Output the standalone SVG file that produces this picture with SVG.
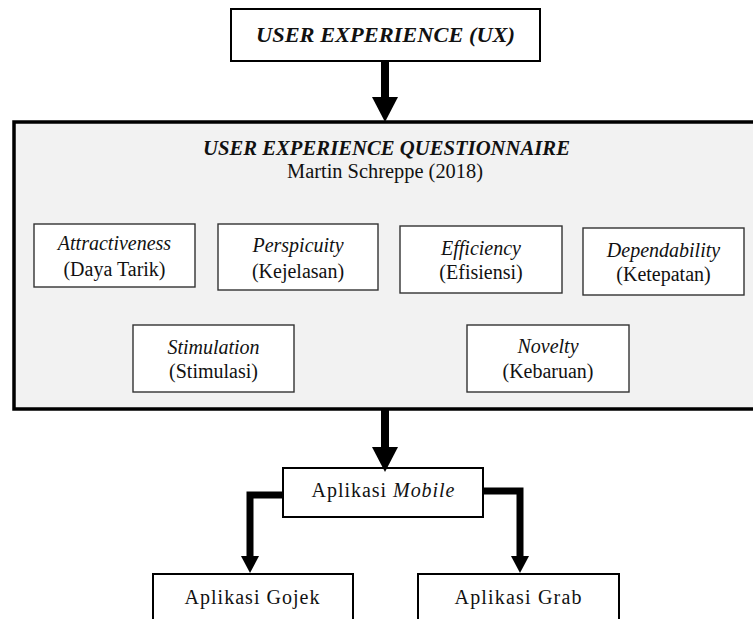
<svg xmlns="http://www.w3.org/2000/svg" width="753" height="619" viewBox="0 0 753 619">
<style>
text{font-family:"Liberation Serif","Times New Roman",serif;fill:#111;text-anchor:middle}
.t{font-size:20px}
.i{font-style:italic}
.bi{font-style:italic;font-weight:bold}
.box{fill:#fff;stroke:#000;stroke-width:2}
.ibox{fill:#fff;stroke:#333;stroke-width:1.4}
.con{fill:none;stroke:#000;stroke-linejoin:miter}
</style>
<defs>
<marker id="bigHead" markerUnits="userSpaceOnUse" markerWidth="26" markerHeight="26" refX="0" refY="13" orient="auto" overflow="visible">
<path d="M0,0 L25,13 L0,26 z" fill="#000"/>
</marker>
<marker id="smallHead" markerUnits="userSpaceOnUse" markerWidth="18" markerHeight="18" refX="0" refY="9" orient="auto" overflow="visible">
<path d="M0,0 L17,9 L0,18 z" fill="#000"/>
</marker>
</defs>

<g id="ux">
<rect class="box" x="231" y="9" width="309" height="52"/>
<text class="bi" x="385.5" y="42" font-size="21" textLength="259" lengthAdjust="spacingAndGlyphs">USER EXPERIENCE (UX)</text>
</g>

<g id="ueq">
<rect x="14" y="122" width="760" height="287" fill="#f2f2f2" stroke="#000" stroke-width="3.5"/>
<text class="bi" x="386.5" y="155" font-size="20" textLength="367" lengthAdjust="spacingAndGlyphs">USER EXPERIENCE QUESTIONNAIRE</text>
<text class="t" x="385" y="178" textLength="196" lengthAdjust="spacingAndGlyphs">Martin Schreppe (2018)</text>
</g>

<g id="attractiveness">
<rect class="ibox" x="34" y="224" width="161" height="63"/>
<text class="t i" x="114.5" y="250">Attractiveness</text>
<text class="t" x="114.5" y="276">(Daya Tarik)</text>
</g>
<g id="perspicuity">
<rect class="ibox" x="218" y="224" width="160" height="66"/>
<text class="t i" x="298" y="252">Perspicuity</text>
<text class="t" x="298" y="278">(Kejelasan)</text>
</g>
<g id="efficiency">
<rect class="ibox" x="400" y="226" width="162" height="67"/>
<text class="t i" x="481" y="255">Efficiency</text>
<text class="t" x="481" y="279">(Efisiensi)</text>
</g>
<g id="dependability">
<rect class="ibox" x="583" y="228" width="161" height="67"/>
<text class="t i" x="663.5" y="257">Dependability</text>
<text class="t" x="663.5" y="281">(Ketepatan)</text>
</g>
<g id="stimulation">
<rect class="ibox" x="133" y="325" width="161" height="67"/>
<text class="t i" x="213.5" y="354">Stimulation</text>
<text class="t" x="213.5" y="378">(Stimulasi)</text>
</g>
<g id="novelty">
<rect class="ibox" x="467" y="325" width="162" height="67"/>
<text class="t i" x="548" y="353">Novelty</text>
<text class="t" x="548" y="378">(Kebaruan)</text>
</g>

<g id="mobile">
<rect class="box" x="283" y="468" width="200" height="49"/>
<text class="t" x="383" y="497" textLength="143" lengthAdjust="spacing">Aplikasi <tspan class="i">Mobile</tspan></text>
</g>
<g id="gojek">
<rect class="box" x="153" y="574" width="200" height="60"/>
<text class="t" x="252" y="604" textLength="135" lengthAdjust="spacing">Aplikasi Gojek</text>
</g>
<g id="grab">
<rect class="box" x="418" y="574" width="201" height="60"/>
<text class="t" x="518" y="604" textLength="127" lengthAdjust="spacing">Aplikasi Grab</text>
</g>

<g id="connectors">
<path class="con" d="M385,61 V97" stroke-width="8" marker-end="url(#bigHead)"/>
<path class="con" d="M385,410 V447" stroke-width="8" marker-end="url(#bigHead)"/>
<path class="con" d="M283,495 H250 V556" stroke-width="7" marker-end="url(#smallHead)"/>
<path class="con" d="M483,491 H520 V556" stroke-width="7" marker-end="url(#smallHead)"/>
</g>
</svg>
